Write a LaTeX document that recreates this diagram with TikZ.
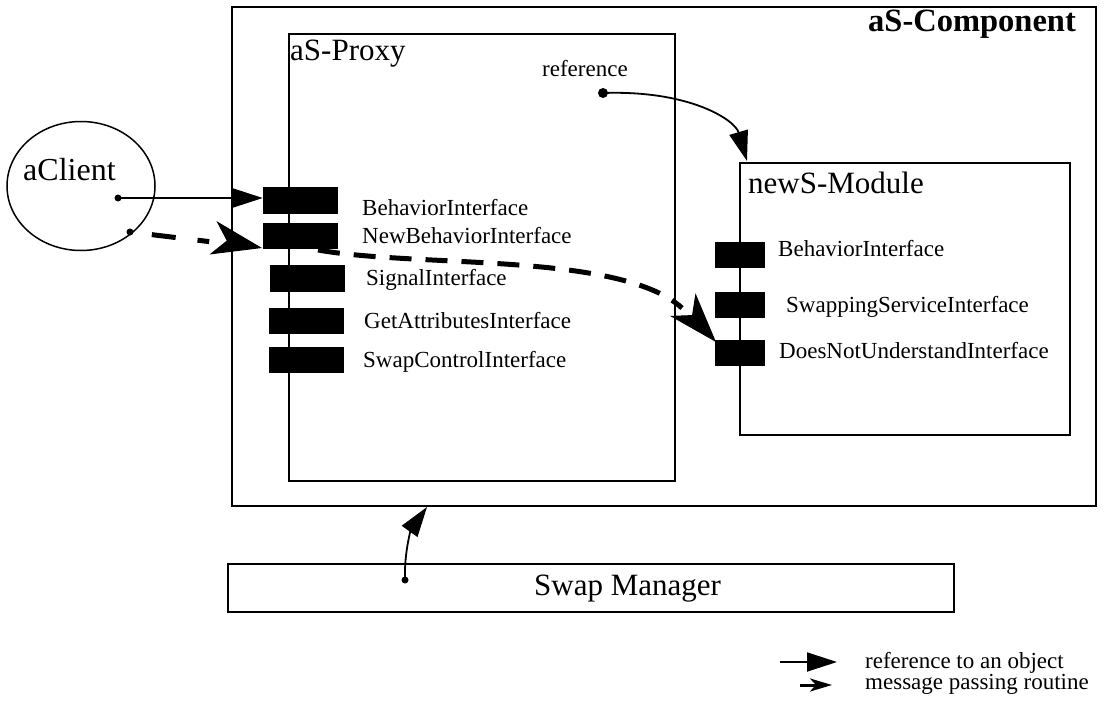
\documentclass[tikz,border=0pt]{standalone}
\usepackage{fontspec}
\setmainfont{Liberation Serif}
\usetikzlibrary{arrows.meta,shapes.geometric,calc}
\begin{document}
\begin{tikzpicture}[x=1pt,y=-1pt,
  box/.style={draw, line width=1.5pt, inner sep=0pt},
  port/.style={fill=black, draw=black, inner sep=0pt},
  lbl/.style={anchor=base west, inner sep=0pt, font=\fontsize{23}{27}\selectfont},
  big/.style={anchor=base west, inner sep=0pt, font=\fontsize{31}{36}\selectfont},
  refarrow/.style={line width=1.8pt, -{Triangle[length=30pt,width=19pt]}},
  msgline/.style={line width=5pt, dash pattern=on 22pt off 14pt},
  msgtip/.style={line width=1pt, solid, -{Stealth[length=50pt,width=34pt,inset=14pt]}},
  enddot/.style={fill=black}]
\useasboundingbox (0,0) rectangle (1104,704);

% containers
\node[box, minimum width=864pt, minimum height=499pt] (comp) at (664,256.5) {};
\node[box, minimum width=386pt, minimum height=447pt] (proxy) at (482,257.5) {};
\node[box, minimum width=330pt, minimum height=272pt] (newmod) at (905,299) {};
\node[box, minimum width=726pt, minimum height=48pt] (swapmgr) at (591,588) {};
\node[box, ellipse, minimum width=148pt, minimum height=129pt] (client) at (81,186) {};

% titles
\node[big, font=\fontsize{32.5}{38}\selectfont\bfseries] (compname) at (868,31) {aS-Component};
\node[big] (proxyname) at (290,60) {aS-Proxy};
\node[big] (modname) at (748,193) {newS-Module};
\node[big, font=\fontsize{32}{38}\selectfont] (clientname) at (23,180) {aClient};
\node[big] (mgrname) at (534,595) {Swap Manager};
\node[lbl] (reflbl) at (542,76) {reference};

% interfaces of the proxy
\node[port, minimum width=74pt, minimum height=26pt] (pb1) at (300,200) {};
\node[port, minimum width=74pt, minimum height=25pt] (pb2) at (300,235.5) {};
\node[port, minimum width=74pt, minimum height=26pt] (pb3) at (307,278) {};
\node[port, minimum width=74pt, minimum height=25pt] (pb4) at (306,320.5) {};
\node[port, minimum width=74pt, minimum height=25pt] (pb5) at (306,359.5) {};
\node[lbl] (pl1) at (362,215) {BehaviorInterface};
\node[lbl] (pl2) at (362,243) {NewBehaviorInterface};
\node[lbl] (pl3) at (366,285) {SignalInterface};
\node[lbl] (pl4) at (364,328) {GetAttributesInterface};
\node[lbl] (pl5) at (363,367) {SwapControlInterface};

% interfaces of the new module
\node[port, minimum width=49pt, minimum height=25pt] (mb1) at (739.5,254.5) {};
\node[port, minimum width=49pt, minimum height=25pt] (mb2) at (739.5,304.5) {};
\node[port, minimum width=49pt, minimum height=25pt] (mb3) at (739.5,352.5) {};
\node[lbl] (ml1) at (778,256) {BehaviorInterface};
\node[lbl] (ml2) at (786,312) {SwappingServiceInterface};
\node[lbl] (ml3) at (779,358) {DoesNotUnderstandInterface};

% connector ends
\coordinate (cref) at (118,198);
\coordinate (cmsg) at (130,232);
\coordinate (pref) at (603,93);
\coordinate (mref) at (747,161);
\coordinate (sref) at (405,580);
\coordinate (sto) at (427,507);
\coordinate (pin) at (262,248);
\coordinate (pinb) at (250,245.5);
\coordinate (pout) at (318,250);
\coordinate (min) at (716,342);
\coordinate (minb) at (708,333);

% references
\draw[refarrow] (cref) -- (cref -| pb1.west);
\draw[refarrow] (pref) .. controls (690,90) and (735,120) .. (mref);
\draw[refarrow] (sref) .. controls (404,550) and (412,528) .. (sto);
\fill[enddot] (cref) circle (3.5pt);
\fill[enddot] (pref) circle (5pt);
\fill[enddot] (sref) circle (3.5pt);

% message passing route
\draw[msgline, dash pattern=on 24pt off 22pt, dash phase=24pt] (cmsg) -- ($(cmsg)!0.6!(pin)$);
\draw[msgtip] (pinb) -- (pin);
\draw[msgline] (pout) .. controls (420,268) and (620,252) .. (682,308);
\draw[msgtip] (minb) -- (min);
\fill[enddot] (cmsg) circle (3.5pt);

% legend
\coordinate (lg1a) at (780,662);
\coordinate (lg1b) at (837,662);
\coordinate (lg2a) at (800,685);
\coordinate (lg2b) at (832,685);
\draw[refarrow] (lg1a) -- (lg1b);
\draw[line width=3pt, -{Stealth[length=22pt,width=13pt,inset=6pt]}] (lg2a) -- (lg2b);
\node[lbl] (lgt1) at (865,668) {reference to an object};
\node[lbl] (lgt2) at (865,689) {message passing routine};
\end{tikzpicture}
\end{document}
